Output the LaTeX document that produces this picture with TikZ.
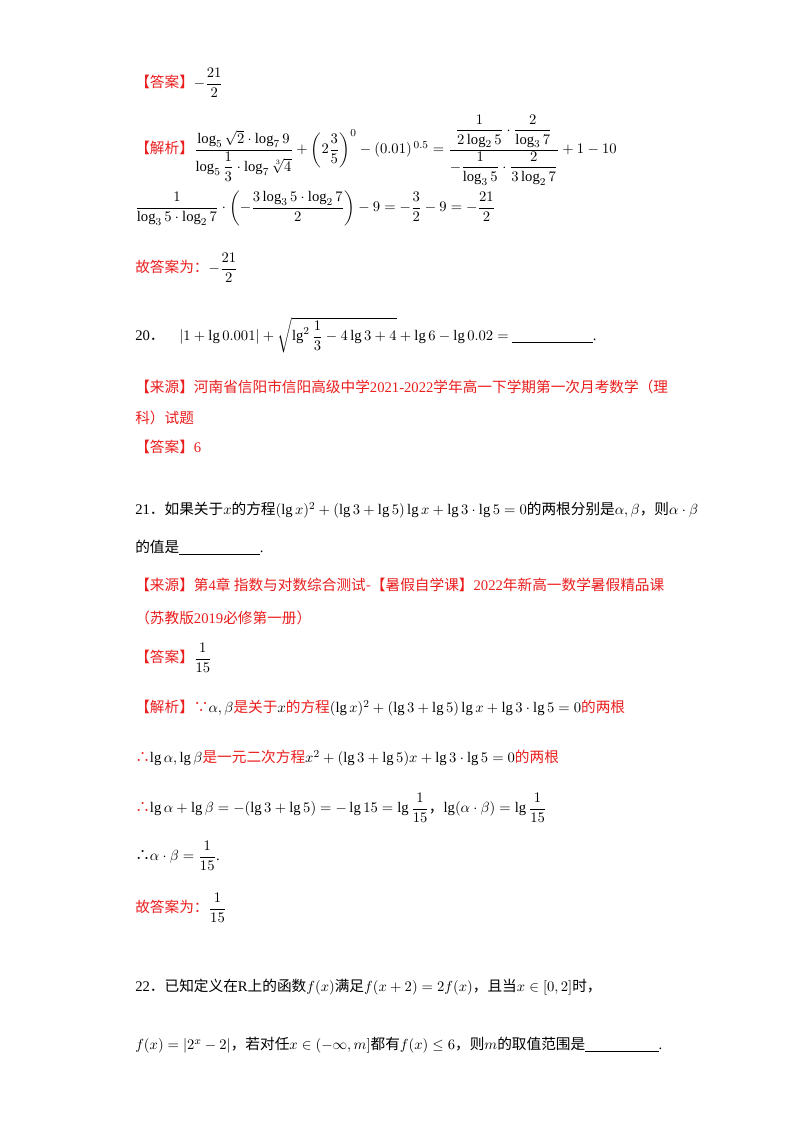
\documentclass[tikz,border=0pt]{standalone}
\usepackage{fontspec}
\usepackage{amsmath}
\setmainfont{Liberation Serif}
\newfontfamily\cjk{Noto Sans CJK SC}
\definecolor{rd}{RGB}{235,30,30}
\newcommand{\R}[1]{\textcolor{rd}{\cjk #1}}
\newcommand{\C}[1]{{\cjk #1}}
\begin{document}
\begin{tikzpicture}[x=0.75pt,y=-0.75pt,
  t/.style={anchor=west,inner sep=0pt,font=\fontsize{11}{13}\selectfont}]
\useasboundingbox (0,0) rectangle (800,1132);
\fill[white] (0,0) rectangle (800,1132);
\node[t] (a1) at (135,83) {\R{【答案】}$-\dfrac{21}{2}$};
\node[t] (j1) at (135,150) {\R{【解析】}$\dfrac{\log_5\sqrt2\cdot\log_7 9}{\log_5\dfrac13\cdot\log_7\sqrt[3]{4}}+\left(2\dfrac35\right)^{0}-(0.01)^{\,0.5}=\dfrac{\dfrac{1}{2\log_2 5}\cdot\dfrac{2}{\log_3 7}}{-\dfrac{1}{\log_3 5}\cdot\dfrac{2}{3\log_2 7}}+1-10$};
\node[t] (j2) at (135,208) {$\dfrac{1}{\log_3 5\cdot\log_2 7}\cdot\left(-\dfrac{3\log_3 5\cdot\log_2 7}{2}\right)-9=-\dfrac32-9=-\dfrac{21}{2}$};
\node[t] (g1) at (135,268) {\R{故答案为：}$-\dfrac{21}{2}$};
\node[t] (q20) at (135,335) {20\C{．}\quad $|1+\lg 0.001|+\sqrt{\lg^2\dfrac13-4\lg 3+4}+\lg 6-\lg 0.02=$\ \underline{\hspace{5.5em}}.};
\node[t] (s20) at (135,387) {\R{【来源】河南省信阳市信阳高级中学\textrm{2021-2022}学年高一下学期第一次月考数学（理}};
\node[t] (s20b) at (135,418) {\R{科）试题}};
\node[t] (a20) at (135,447) {\R{【答案】}\textcolor{rd}{6}};
\node[t] (q21) at (135,510) {21\C{．如果关于}$x$\C{的方程}$(\lg x)^2+(\lg 3+\lg 5)\lg x+\lg 3\cdot\lg 5=0$\C{的两根分别是}$\alpha,\beta$\C{，则}$\alpha\cdot\beta$};
\node[t] (q21b) at (135,548) {\C{的值是}\underline{\hspace{5.5em}}.};
\node[t] (s21) at (135,585) {\R{【来源】第\textrm{4}章\ 指数与对数综合测试-【暑假自学课】\textrm{2022}年新高一数学暑假精品课}};
\node[t] (s21b) at (135,618) {\R{（苏教版\textrm{2019}必修第一册）}};
\node[t] (a21) at (135,658) {\R{【答案】}$\dfrac{1}{15}$};
\node[t] (j21) at (135,708) {\R{【解析】∵}$\alpha,\beta$\R{是关于}$x$\R{的方程}$(\lg x)^2+(\lg 3+\lg 5)\lg x+\lg 3\cdot\lg 5=0$\R{的两根}};
\node[t] (j21b) at (135,758) {\R{∴}$\lg\alpha,\lg\beta$\R{是一元二次方程}$x^2+(\lg 3+\lg 5)x+\lg 3\cdot\lg 5=0$\R{的两根}};
\node[t] (j21c) at (135,808) {\R{∴}$\lg\alpha+\lg\beta=-(\lg 3+\lg 5)=-\lg 15=\lg\dfrac{1}{15}$\C{，}$\lg(\alpha\cdot\beta)=\lg\dfrac{1}{15}$};
\node[t] (j21d) at (135,856) {\C{∴}$\alpha\cdot\beta=\dfrac{1}{15}$.};
\node[t] (g21) at (135,908) {\R{故答案为：}$\dfrac{1}{15}$};
\node[t] (q22) at (135,987) {22\C{．已知定义在}R\C{上的函数}$f(x)$\C{满足}$f(x+2)=2f(x)$\C{，且当}$x\in[0,2]$\C{时，}};
\node[t] (q22b) at (135,1045) {$f(x)=\left|2^x-2\right|$\C{，若对任}$x\in(-\infty,m]$\C{都有}$f(x)\le 6$\C{，则}$m$\C{的取值范围是}\underline{\hspace{5em}}.};
\end{tikzpicture}
\end{document}
